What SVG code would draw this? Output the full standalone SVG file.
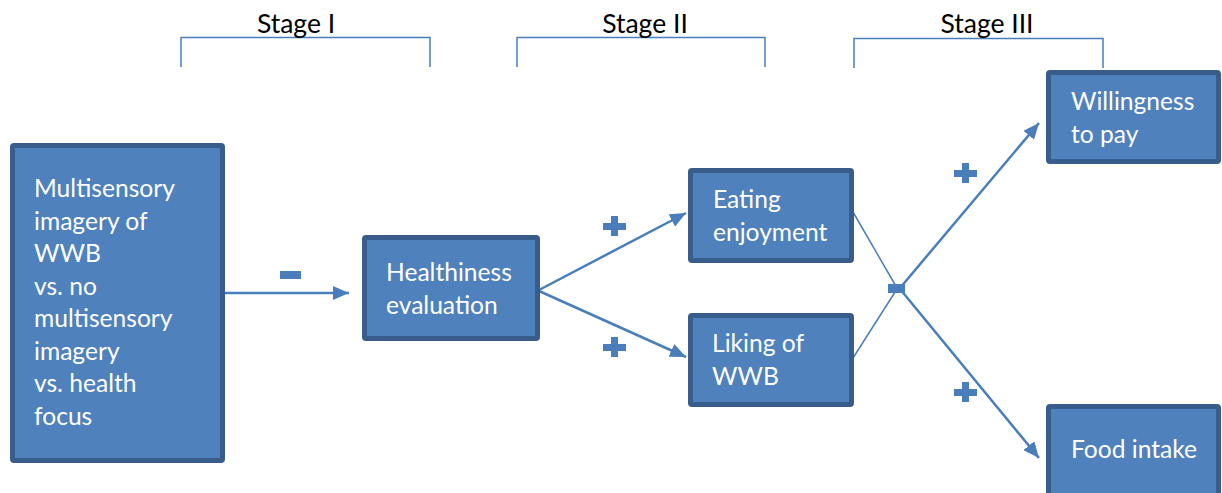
<svg xmlns="http://www.w3.org/2000/svg" width="1222" height="493" viewBox="0 0 1222 493">
<style>
.box{fill:#4F81BD;stroke:#385D8A;stroke-width:5}
.lbl{font-family:Lato,"Open Sans",sans-serif;font-size:24.6px;fill:#FFFFFF}
.stage{font-family:Lato,"Open Sans",sans-serif;font-size:26.5px;fill:#000000;text-anchor:middle}
.br{fill:none;stroke:#4A7EBB;stroke-width:1.5}
.arr{fill:none;stroke:#4A7EBB;stroke-width:2.5;marker-end:url(#ah)}
.thin{fill:none;stroke:#4A7EBB;stroke-width:1.5}
.sign{fill:#4A7EBB}
</style>
<defs>
<marker id="ah" viewBox="0 0 16 14" refX="16" refY="7" markerWidth="16" markerHeight="14" markerUnits="userSpaceOnUse" orient="auto">
<path d="M0,0 L16,7 L0,14 Z" fill="#4A7EBB"/>
</marker>
</defs>
<g id="stages">
<path class="br" d="M181,67 V37.5 H430 V67"/>
<path class="br" d="M517,67 V37.5 H765 V67"/>
<path class="br" d="M854,68 V38.5 H1103 V68"/>
<text class="stage" x="296" y="32.5">Stage I</text>
<text class="stage" x="645" y="32.5">Stage II</text>
<text class="stage" x="987" y="32.5">Stage III</text>
</g>
<g id="connectors">
<line class="arr" x1="225" y1="293" x2="349" y2="293"/>
<line class="arr" x1="539" y1="290" x2="686" y2="213"/>
<line class="arr" x1="539" y1="291" x2="686" y2="357"/>
<line class="thin" x1="853" y1="212" x2="897" y2="288"/>
<line class="thin" x1="853" y1="358" x2="897" y2="289"/>
<line class="arr" x1="900" y1="288" x2="1039" y2="123"/>
<line class="arr" x1="900" y1="289" x2="1039" y2="458"/>
<rect class="sign" x="888" y="284" width="17" height="9"/>
<rect class="sign" x="280" y="271" width="21" height="8"/>
<path class="sign" d="M603,223 H611 V216 H618 V223 H626 V230 H618 V236 H611 V230 H603 Z"/>
<path class="sign" d="M603,344 H611 V337 H618 V344 H626 V351 H618 V357 H611 V351 H603 Z"/>
<path class="sign" d="M954,170 H962 V163 H969 V170 H977 V177 H969 V183 H962 V177 H954 Z"/>
<path class="sign" d="M954,389 H962 V382 H969 V389 H977 V396 H969 V402 H962 V396 H954 Z"/>
</g>
<g id="node-imagery">
<rect class="box" x="12.5" y="145.5" width="210" height="315" rx="1.5"/>
<text class="lbl" x="34"><tspan x="34" y="197">Multisensory</tspan><tspan x="34" y="229.5">imagery of</tspan><tspan x="34" y="262">WWB</tspan><tspan x="34" y="294.5">vs. no</tspan><tspan x="34" y="327">multisensory</tspan><tspan x="34" y="359.5">imagery</tspan><tspan x="34" y="392">vs. health</tspan><tspan x="34" y="424.5">focus</tspan></text>
</g>
<g id="node-healthiness">
<rect class="box" x="364.5" y="237.5" width="173" height="101" rx="1.5"/>
<text class="lbl"><tspan x="386" y="281">Healthiness</tspan><tspan x="386" y="313.5">evaluation</tspan></text>
</g>
<g id="node-eating">
<rect class="box" x="690.5" y="170.5" width="161" height="90" rx="1.5"/>
<text class="lbl"><tspan x="713" y="208">Eating</tspan><tspan x="713" y="240.5">enjoyment</tspan></text>
</g>
<g id="node-liking">
<rect class="box" x="690.5" y="315.5" width="161" height="89" rx="1.5"/>
<text class="lbl"><tspan x="712" y="352">Liking of</tspan><tspan x="712" y="384.5">WWB</tspan></text>
</g>
<g id="node-wtp">
<rect class="box" x="1048.5" y="72.5" width="170" height="89" rx="1.5"/>
<text class="lbl"><tspan x="1071" y="110">Willingness</tspan><tspan x="1071" y="142.5">to pay</tspan></text>
</g>
<g id="node-food">
<rect class="box" x="1048.5" y="406.5" width="170" height="100" rx="1.5"/>
<text class="lbl"><tspan x="1071" y="458">Food intake</tspan></text>
</g>
</svg>
